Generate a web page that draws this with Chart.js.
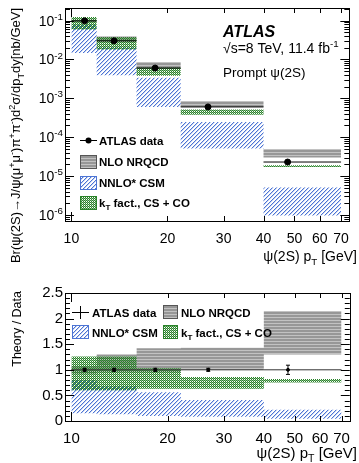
<!DOCTYPE html>
<html>
<head>
<meta charset="utf-8">
<script src="https://cdn.jsdelivr.net/npm/chart.js@4.4.1/dist/chart.umd.min.js"></script>
<style>
    html, body { margin: 0; padding: 0; background: #fff; }
    #wrap { position: relative; width: 359px; height: 463px; }
    canvas { position: absolute; left: 0; }
</style>
</head>
<body>
<div id="wrap">
    <canvas id="mainChart" width="359" height="270" style="top:0"></canvas>
    <canvas id="ratioChart" width="359" height="193" style="top:270px"></canvas>
</div>
<script>
// pT bins [GeV] and measured cross section
const binEdges = [10, 12, 16, 22, 40, 70];
const dataPt = [11.0, 13.6, 18.3, 26.8, 47.6];
const dataXsec = [0.098, 0.030, 0.0060, 6.0e-4, 2.3e-5];
const dataRelErr = [0.03, 0.03, 0.03, 0.03, 0.09];

// theory / data bands per bin
const nrqcdLow = [0.93, 0.95, 0.95, 1.00, 1.30];
const nrqcdHigh = [1.07, 1.30, 1.42, 1.43, 2.15];
const csmLow = [0.15, 0.13, 0.10, 0.085, 0.042];
const csmHigh = [0.80, 0.68, 0.56, 0.41, 0.22];
const ktLow = [0.60, 0.60, 0.63, 0.63, 0.75];
const ktHigh = [1.26, 1.26, 1.03, 0.86, 0.82];

// axis ticks
const xTicks = [10, 20, 30, 40, 50, 60, 70];
const yExps = [-6, -5, -4, -3, -2, -1];
const ratioTicks = [0, 0.5, 1, 1.5, 2, 2.5];

const FONT = '"Liberation Sans", Arial, Helvetica, sans-serif';
const X_MIN = 9.55, X_MAX = 74.3;

// ---- fill patterns ----
function makePattern(w, h, draw) {
    const c = document.createElement('canvas');
    c.width = w; c.height = h;
    const g = c.getContext('2d');
    draw(g);
    return g.createPattern(c, 'repeat');
}

const grayFill = makePattern(1, 3, g => {
    g.fillStyle = '#979797'; g.fillRect(0, 0, 1, 2);
    g.fillStyle = '#c2c2c2'; g.fillRect(0, 2, 1, 1);
});
const blueFill = makePattern(4, 4, g => {
    for (let x = 0; x < 4; x++) {
        g.fillStyle = '#4c74d4'; g.fillRect(x, 3 - x, 1, 1);
        g.fillStyle = 'rgba(76,116,212,0.3)'; g.fillRect(x, (4 - x) % 4, 1, 1);
    }
});
const greenFill = makePattern(2, 2, g => {
    g.fillStyle = '#2a832a';
    g.fillRect(0, 0, 1, 1); g.fillRect(1, 1, 1, 1);
    g.fillStyle = 'rgba(42,131,42,0.55)';
    g.fillRect(1, 0, 1, 1);
});

// ---- dataset builders ----
// stepped edge of a band: value of bin i runs from edge i to edge i+1
function stepPoints(vals, scaleArr) {
    return binEdges.map((e, i) => {
        const k = Math.min(i, vals.length - 1);
        return { x: e, y: vals[k] * (scaleArr ? scaleArr[k] : 1) };
    });
}

function bandDatasets(low, high, fill, order, scaleArr) {
    return [
        { data: stepPoints(high, scaleArr), stepped: 'before', borderWidth: 0, pointRadius: 0, fill: false, order },
        { data: stepPoints(low, scaleArr), stepped: 'before', borderWidth: 0, pointRadius: 0, fill: '-1', backgroundColor: fill, order }
    ];
}

function xErrPoints(vals) {
    const pts = [];
    vals.forEach((v, i) => {
        pts.push({ x: binEdges[i], y: v }, { x: binEdges[i + 1], y: v }, { x: binEdges[i + 1], y: null });
    });
    return pts;
}

function yErrPoints(centers) {
    const pts = [];
    dataPt.forEach((x, i) => {
        pts.push({ x, y: centers[i] * (1 - dataRelErr[i]) }, { x, y: centers[i] * (1 + dataRelErr[i]) }, { x, y: null });
    });
    return pts;
}

// ---- rich text with sub/superscripts: p_{T}, fb^{-1} ----
function parseRich(str) {
    const parts = [];
    const re = /([_^])\{([^}]*)\}/g;
    let last = 0, m;
    while ((m = re.exec(str))) {
        if (m.index > last) parts.push({ t: str.slice(last, m.index) });
        parts.push({ t: m[2], sub: m[1] === '_', sup: m[1] === '^' });
        last = re.lastIndex;
    }
    if (last < str.length) parts.push({ t: str.slice(last) });
    return parts;
}

function drawRich(ctx, str, x, y, size, opts = {}) {
    const parts = parseRich(str);
    const style = opts.style || '';
    const fontFor = p => `${style} ${(p.sub || p.sup) ? size * 0.7 : size}px ${FONT}`;
    let w = 0;
    parts.forEach(p => { ctx.font = fontFor(p); p.w = ctx.measureText(p.t).width; w += p.w; });
    let cx = opts.align === 'right' ? x - w : x;
    ctx.save();
    ctx.fillStyle = opts.color || '#000';
    ctx.textAlign = 'left';
    ctx.textBaseline = 'alphabetic';
    parts.forEach(p => {
        ctx.font = fontFor(p);
        const dy = p.sup ? -size * 0.42 : p.sub ? size * 0.28 : 0;
        ctx.fillText(p.t, cx, y + dy);
        cx += p.w;
    });
    ctx.restore();
}

function drawRotated(ctx, str, x, y, size) {
    ctx.save();
    ctx.translate(x, y);
    ctx.rotate(-Math.PI / 2);
    drawRich(ctx, str, 0, 0, size, { align: 'right' });
    ctx.restore();
}

// ---- frame with inside ticks, ROOT style ----
function drawFrame(chart, yTickList) {
    const { ctx, chartArea: a, scales } = chart;
    ctx.save();
    ctx.strokeStyle = '#000';
    ctx.lineWidth = 1;
    ctx.beginPath();
    xTicks.forEach(v => {
        const px = Math.round(scales.x.getPixelForValue(v)) + 0.5;
        const len = v === 10 ? 9 : 5;
        ctx.moveTo(px, a.bottom); ctx.lineTo(px, a.bottom - len);
        ctx.moveTo(px, a.top); ctx.lineTo(px, a.top + len);
    });
    yTickList.forEach(t => {
        const py = Math.round(scales.y.getPixelForValue(t.v)) + 0.5;
        ctx.moveTo(a.left, py); ctx.lineTo(a.left + t.len, py);
        ctx.moveTo(a.right, py); ctx.lineTo(a.right - t.len, py);
    });
    ctx.stroke();
    ctx.strokeRect(Math.round(a.left) + 0.5, Math.round(a.top) + 0.5,
        Math.round(a.right - a.left), Math.round(a.bottom - a.top));
    ctx.restore();
}

function legendBox(ctx, x, y, w, h, fill, stroke) {
    ctx.fillStyle = '#fff';
    ctx.fillRect(x, y, w, h);
    ctx.fillStyle = fill;
    ctx.fillRect(x, y, w, h);
    ctx.strokeStyle = stroke;
    ctx.lineWidth = 1;
    ctx.strokeRect(x + 0.5, y + 0.5, w - 1, h - 1);
}

// ---- main panel ----
const mainPlugin = {
    id: 'mainDecor',
    afterDatasetsDraw(chart) {
        const { ctx, scales } = chart;
        const ticks = [];
        for (let e = -7; e <= 0; e++) {
            for (let m = 1; m <= 9; m++) {
                const v = m * Math.pow(10, e);
                if (v >= scales.y.min && v <= scales.y.max) ticks.push({ v, len: m === 1 ? 9 : 5 });
            }
        }
        drawFrame(chart, ticks);

        // y tick labels 10^n
        yExps.forEach(n => {
            const py = scales.y.getPixelForValue(Math.pow(10, n));
            drawRich(ctx, `10^{${n}}`, 63, py + 5, 14, { align: 'right' });
        });

        drawRotated(ctx, 'Br(ψ(2S)→J/ψ(μ^{+}μ^{-})π^{+}π^{-})d^{2}σ/dp_{T}dy[nb/GeV]', 20, 8, 13);
        drawRich(ctx, 'ψ(2S) p_{T} [GeV]', 357, 261, 14, { align: 'right' });

        drawRich(ctx, 'ATLAS', 223, 37, 16, { style: 'italic bold' });
        drawRich(ctx, '√s=8 TeV, 11.4 fb^{-1}', 223, 53, 14);
        drawRich(ctx, 'Prompt ψ(2S)', 223, 77, 13.5);

        // legend
        ctx.save();
        ctx.strokeStyle = '#000';
        ctx.beginPath(); ctx.moveTo(80, 140.5); ctx.lineTo(97, 140.5); ctx.stroke();
        ctx.fillStyle = '#000';
        ctx.beginPath(); ctx.arc(88.5, 140.5, 3, 0, Math.PI * 2); ctx.fill();
        legendBox(ctx, 80, 155, 17, 14, grayFill, '#555');
        legendBox(ctx, 80, 176, 17, 14, blueFill, '#4c74d4');
        legendBox(ctx, 80, 196, 17, 14, greenFill, '#2a832a');
        ctx.restore();
        drawRich(ctx, 'ATLAS data', 99, 144.5, 11.5, { style: 'bold' });
        drawRich(ctx, 'NLO NRQCD', 99, 166, 11.5, { style: 'bold' });
        drawRich(ctx, 'NNLO* CSM', 99, 187, 11.5, { style: 'bold' });
        drawRich(ctx, 'k_{T} fact., CS + CO', 99, 207, 11.5, { style: 'bold' });
    }
};

new Chart(document.getElementById('mainChart'), {
    type: 'line',
    data: {
        datasets: [
            ...bandDatasets(nrqcdLow, nrqcdHigh, grayFill, 4, dataXsec),
            ...bandDatasets(csmLow, csmHigh, blueFill, 3, dataXsec),
            ...bandDatasets(ktLow, ktHigh, greenFill, 2, dataXsec),
            { data: xErrPoints(dataXsec), borderColor: '#000', borderWidth: 1, pointRadius: 0, spanGaps: false, order: 1 },
            { data: yErrPoints(dataXsec), borderColor: '#000', borderWidth: 1, pointRadius: 0, spanGaps: false, order: 1 },
            { data: dataPt.map((x, i) => ({ x, y: dataXsec[i] })), showLine: false, pointRadius: 3,
              pointBackgroundColor: '#000', pointBorderColor: '#000', order: 0 }
        ]
    },
    options: {
        responsive: false,
        animation: false,
        events: [],
        layout: { padding: { left: 65, right: 2, top: 8, bottom: 0 } },
        plugins: { legend: { display: false }, tooltip: { enabled: false } },
        scales: {
            x: {
                type: 'logarithmic', min: X_MIN, max: X_MAX,
                afterBuildTicks: s => { s.ticks = xTicks.map(v => ({ value: v })); },
                afterFit: s => { s.height = 49; },
                grid: { display: false, drawTicks: false }, border: { display: false },
                ticks: { autoSkip: false, maxRotation: 0, padding: 10, color: '#000',
                         font: { family: FONT, size: 14 }, callback: v => String(v) }
            },
            y: { type: 'logarithmic', display: false, min: 7e-7, max: 0.21 }
        }
    },
    plugins: [mainPlugin]
});

// ---- ratio panel ----
const ratioPlugin = {
    id: 'ratioDecor',
    afterDatasetsDraw(chart) {
        const { ctx } = chart;
        const ticks = [];
        for (let k = 0; k <= 25; k++) ticks.push({ v: k / 10, len: k % 5 === 0 ? 9 : 5 });
        drawFrame(chart, ticks);

        drawRotated(ctx, 'Theory / Data', 21, 21, 12.5);
        drawRich(ctx, 'ψ(2S) p_{T} [GeV]', 357, 188, 15, { align: 'right' });

        // legend
        ctx.save();
        ctx.strokeStyle = '#000';
        ctx.beginPath();
        ctx.moveTo(72, 42.5); ctx.lineTo(89, 42.5);
        ctx.moveTo(80.5, 36); ctx.lineTo(80.5, 49);
        ctx.stroke();
        legendBox(ctx, 163, 35, 15, 14, grayFill, '#555');
        legendBox(ctx, 72, 55, 17, 14, blueFill, '#4c74d4');
        legendBox(ctx, 163, 55, 15, 14, greenFill, '#2a832a');
        ctx.restore();
        drawRich(ctx, 'ATLAS data', 92, 46.5, 11.5, { style: 'bold' });
        drawRich(ctx, 'NLO NRQCD', 181, 46.5, 11.5, { style: 'bold' });
        drawRich(ctx, 'NNLO* CSM', 92, 66.5, 11.5, { style: 'bold' });
        drawRich(ctx, 'k_{T} fact., CS + CO', 181, 66.5, 11.5, { style: 'bold' });
    }
};

const ones = dataPt.map(() => 1);

new Chart(document.getElementById('ratioChart'), {
    type: 'line',
    data: {
        datasets: [
            ...bandDatasets(nrqcdLow, nrqcdHigh, grayFill, 4),
            ...bandDatasets(csmLow, csmHigh, blueFill, 3),
            ...bandDatasets(ktLow, ktHigh, greenFill, 2),
            { data: xErrPoints(ones), borderColor: '#333', borderWidth: 1, pointRadius: 0, spanGaps: false, order: 1 },
            { data: yErrPoints(ones), borderColor: '#000', borderWidth: 1, spanGaps: false, order: 1,
              pointStyle: 'line', pointRadius: 2, pointBorderWidth: 1, pointBorderColor: '#000' },
            { data: dataPt.map(x => ({ x, y: 1 })), showLine: false, pointRadius: 1.5,
              pointBackgroundColor: '#000', pointBorderColor: '#000', order: 0 }
        ]
    },
    options: {
        responsive: false,
        animation: false,
        events: [],
        layout: { padding: { left: 0, right: 2, top: 23, bottom: 0 } },
        plugins: { legend: { display: false }, tooltip: { enabled: false } },
        scales: {
            x: {
                type: 'logarithmic', min: X_MIN, max: X_MAX,
                afterBuildTicks: s => { s.ticks = xTicks.map(v => ({ value: v })); },
                afterFit: s => { s.height = 42; },
                grid: { display: false, drawTicks: false }, border: { display: false },
                ticks: { autoSkip: false, maxRotation: 0, padding: 9, color: '#000',
                         font: { family: FONT, size: 15 }, callback: v => String(v) }
            },
            y: {
                min: 0, max: 2.5,
                afterBuildTicks: s => { s.ticks = ratioTicks.map(v => ({ value: v })); },
                afterFit: s => { s.width = 65; },
                grid: { display: false, drawTicks: false }, border: { display: false },
                ticks: { padding: 2, color: '#000', font: { family: FONT, size: 15 }, callback: v => String(v) }
            }
        }
    },
    plugins: [ratioPlugin]
});
</script>
</body>
</html>
